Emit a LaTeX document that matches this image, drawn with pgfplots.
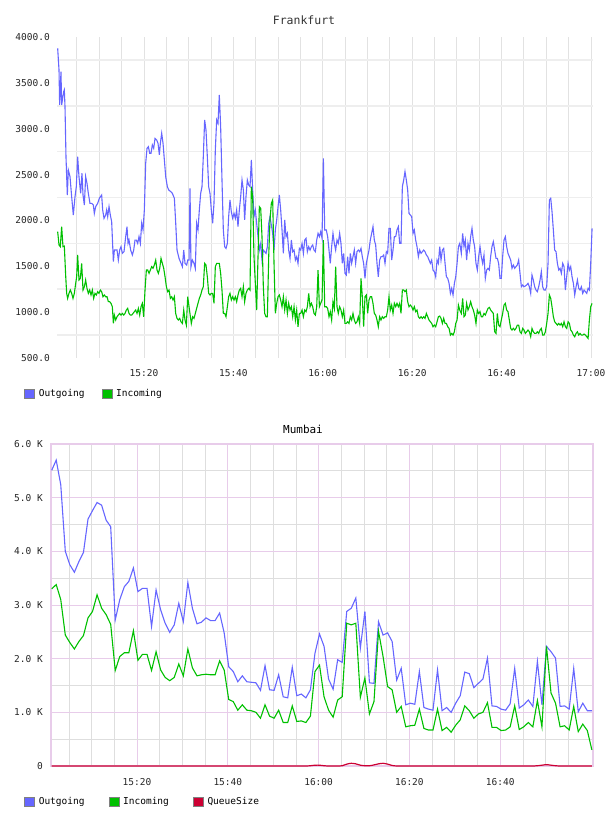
\documentclass[border=0pt]{standalone}
\usepackage{fontspec}
\setmainfont{DejaVu Sans Mono}
\usepackage{pgfplots}
\pgfplotsset{compat=1.18}
\usepackage{pgfplotstable}
\definecolor{cout}{RGB}{102,102,255}
\definecolor{cin}{RGB}{0,192,0}
\definecolor{cq}{RGB}{204,0,51}
\definecolor{gridh}{RGB}{238,238,238}
\definecolor{gridv}{RGB}{226,226,226}
\definecolor{mmaj}{RGB}{232,204,234}
\definecolor{mmin}{RGB}{222,222,222}

\pgfplotstableread{
t out in q
1.2 5510 3300 0
2.2 5700 3380 0
3.2 5240 3100 0
4.2 4000 2440 0
5.2 3750 2300 0
6.2 3610 2180 0
7.2 3810 2320 0
8.2 3980 2430 0
9.2 4600 2760 0
10.2 4760 2880 0
11.2 4910 3190 0
12.2 4860 2940 0
13.2 4580 2820 0
14.2 4460 2640 0
15.2 2720 1780 0
16.2 3100 2040 0
17.2 3340 2110 0
18.2 3440 2110 0
19.2 3690 2520 0
20.2 3250 1970 0
21.2 3310 2080 0
22.2 3310 2080 0
23.2 2600 1780 0
24.2 3280 2130 0
25.2 2910 1790 0
26.2 2660 1650 0
27.2 2490 1590 0
28.2 2630 1650 0
29.2 3030 1900 0
30.2 2690 1680 0
31.2 3420 2180 0
32.2 2940 1830 0
33.2 2650 1680 0
34.2 2680 1700 0
35.2 2760 1710 0
36.2 2710 1700 0
37.2 2710 1700 0
38.2 2850 1960 0
39.2 2480 1790 0
40.2 1850 1240 0
41.2 1760 1200 0
42.2 1570 1040 0
43.2 1680 1140 0
44.2 1570 1040 0
45.2 1560 1030 0
46.2 1550 1000 0
47.2 1410 890 0
48.2 1870 1140 0
49.2 1420 930 0
50.2 1410 890 0
51.2 1700 1040 0
52.2 1290 810 0
53.2 1270 810 0
54.2 1840 1120 0
55.2 1310 830 0
56.2 1340 840 0
57.2 1270 810 0
58.2 1420 930 5
59.2 2100 1760 15
60.2 2460 1880 15
61.2 2230 1290 5
62.2 1620 1040 0
63.2 1430 910 0
64.2 1980 1230 0
65.2 1930 1290 5
66.2 2880 2660 35
67.2 2940 2630 50
68.2 3130 2660 40
69.2 2200 1280 15
70.2 2880 1640 5
71.2 1550 970 5
72.2 1540 1200 20
73.2 2690 2510 40
74.2 2440 2040 50
75.2 2480 1480 35
76.2 2320 1420 10
77.2 1600 1000 0
78.2 1820 1110 0
79.2 1140 730 0
80.2 1170 750 0
81.2 1150 760 0
82.2 1760 1060 0
83.2 1090 700 0
84.2 1060 670 0
85.2 1040 670 0
86.2 1790 1060 0
87.2 1030 660 0
88.2 1090 720 0
89.2 1000 630 0
90.2 1170 760 0
91.2 1310 860 0
92.2 1750 1120 0
93.2 1720 1030 0
94.2 1460 890 0
95.2 1540 970 0
96.2 1620 1000 0
97.2 2010 1180 0
98.2 1120 720 0
99.2 1110 720 0
100.2 1060 660 0
101.2 1040 670 0
102.2 1160 730 0
103.2 1820 1120 0
104.2 1080 680 0
105.2 1140 730 0
106.2 1230 810 0
107.2 1110 730 0
108.2 1950 1220 5
109.2 1140 730 15
110.2 2230 2230 25
111.2 2130 1360 15
112.2 2010 1170 5
113.2 1110 730 0
114.2 1120 750 0
115.2 1060 670 0
116.2 1820 1110 0
117.2 1010 640 0
118.2 1170 780 0
119.2 1030 660 0
120.2 1030 300 0
}\mumbai

\begin{document}
\begin{tikzpicture}
\path[use as bounding box] (0pt,0pt) rectangle (608pt,816pt);
% ---------------- Frankfurt ----------------
\begin{axis}[
  at={(57pt,458pt)}, anchor=south west,
  scale only axis, width=536pt, height=321pt,
  xmin=0.54, xmax=120.45, ymin=500, ymax=4000,
  axis line style={draw=none}, tick style={draw=none},
  xtick={5,10,...,120},
  xticklabels={,,,15:20,,,,15:40,,,,16:00,,,,16:20,,,,16:40,,,,17:00},
  ytick={500,1000,...,4000},
  yticklabels={500.0,1000.0,1500.0,2000.0,2500.0,3000.0,3500.0,4000.0},
  minor ytick={750,1250,...,3750},
  xmajorgrids, yminorgrids,
  major grid style={gridv, line width=0.9pt},
  minor grid style={gridh, line width=1.6pt},
  ticklabel style={font=\fontsize{9.5}{11}\selectfont, text=black!85},
  yticklabel style={inner sep=0pt, xshift=-7pt},
  xticklabel style={inner sep=0pt, anchor=center, yshift=-15pt},
  title={Frankfurt},
  title style={at={(0.5,1)}, anchor=center, xshift=-21pt, yshift=11pt,
    font=\fontsize{11.5}{13}\selectfont, text=black!80},
  legend columns=-1,
  legend style={at={(-0.0616,-0.112)}, anchor=west, draw=none, fill=none,
    inner sep=0pt, font=\fontsize{9.5}{11}\selectfont,
    nodes={inner sep=1pt},
    /tikz/every even column/.append style={column sep=16pt}},
  clip=false,
]
\addlegendimage{legend image code/.code={\draw[fill=cout,draw=gray,line width=0.8pt] (0pt,-4.5pt) rectangle (10pt,4.5pt); \path (13pt,0pt);}}
\addlegendentry{Outgoing}
\addlegendimage{legend image code/.code={\draw[fill=cin,draw=gray,line width=0.8pt] (0pt,-4.5pt) rectangle (10pt,4.5pt); \path (13pt,0pt);}}
\addlegendentry{Incoming}
\addplot[forget plot, cout, line width=1.1pt] coordinates {
(0.69,3877)(0.99,3641)(1.13,3259)(1.43,3623)(1.58,3259)(2.03,3404)(2.18,3423)(2.33,3241)(2.55,2695)(2.85,2277)(3.07,2550)(3.45,2477)(3.82,2259)(4.19,2059)(4.57,2259)(4.86,2368)(5.16,2695)(5.46,2477)(5.83,2295)(6.13,2514)(6.36,2277)(6.66,2168)(6.95,2477)(7.25,2405)(7.55,2295)(7.92,2186)(8.30,2186)(8.67,2168)(8.89,2077)(9.19,2150)(9.64,2186)(10.01,2241)(10.53,2277)(10.76,2114)(11.06,2023)(11.43,2059)(11.65,2114)(11.88,2041)(12.18,2150)(12.47,2059)(12.77,1986)(13.15,1550)(13.37,1677)(13.67,1677)(13.97,1677)(14.26,1568)(14.56,1677)(14.86,1714)(15.16,1641)(15.53,1659)(15.91,1823)(16.20,1932)(16.43,1750)(16.65,1786)(17.02,1677)(17.40,1623)(17.70,1677)(17.99,1786)(18.29,1786)(18.59,1750)(18.89,1823)(19.19,1750)(19.49,1968)(19.78,1896)(20.08,2114)(20.38,2623)(20.68,2786)(20.98,2804)(21.28,2732)(21.57,2732)(21.87,2823)(22.17,2786)(22.47,2895)(22.84,2877)(23.14,2841)(23.44,2714)(23.66,2841)(23.96,2950)(24.26,2841)(24.56,2659)(24.86,2477)(25.23,2368)(25.53,2332)(25.98,2314)(26.35,2295)(26.80,2241)(27.10,1968)(27.39,1677)(27.84,1586)(28.29,1532)(28.59,1496)(28.89,1677)(29.18,1532)(29.56,1514)(29.78,1568)(30.08,1568)(30.30,2350)(30.51,1496)(30.81,1568)(31.19,1532)(31.48,1478)(31.78,1968)(32.08,1896)(32.38,2114)(32.68,2295)(32.98,2368)(33.27,2695)(33.57,3095)(33.87,2986)(34.17,2695)(34.47,2368)(34.77,2295)(35.06,2114)(35.36,1968)(35.66,2186)(35.96,2768)(36.26,3095)(36.56,3059)(36.85,3368)(37.15,3023)(37.45,2441)(37.75,1896)(38.05,1714)(38.35,1695)(38.65,1750)(38.94,2041)(39.24,2223)(39.54,2095)(39.84,2023)(40.14,2077)(40.44,2023)(40.73,2114)(41.03,1932)(41.33,2114)(41.63,2259)(41.93,2441)(42.23,2332)(42.52,2005)(42.82,2259)(43.12,2441)(43.42,2386)(43.72,2368)(44.02,2659)(44.31,2332)(44.61,2041)(44.91,2114)(45.21,1968)(45.51,1823)(45.81,1677)(46.11,1750)(46.40,1568)(46.70,1677)(47.00,1659)(47.30,1641)(47.60,1714)(47.90,1968)(48.19,2041)(48.49,1950)(48.79,1859)(49.09,1677)(49.39,1896)(49.69,2005)(49.99,2150)(50.28,2277)(50.58,2114)(50.88,1896)(51.18,1641)(51.48,2005)(51.78,1823)(52.08,1859)(52.37,1677)(52.67,1586)(52.97,1786)(53.27,1659)(53.57,1677)(53.87,1568)(54.16,1605)(54.46,1532)(54.76,1695)(55.06,1677)(55.36,1750)(55.66,1641)(55.96,1786)(56.25,1805)(56.55,1659)(56.85,1714)(57.15,1677)(57.45,1714)(57.74,1732)(58.04,1677)(58.34,1659)(58.64,1786)(58.94,1859)(59.24,1823)(59.53,1877)(59.83,1805)(60.13,2677)(60.43,1896)(60.79,1896)(61.09,1823)(61.39,1677)(61.68,1532)(61.98,1714)(62.28,1859)(62.58,1750)(62.88,1677)(63.18,1786)(63.47,1750)(63.77,1859)(64.07,1750)(64.37,1532)(64.67,1641)(64.97,1423)(65.26,1405)(65.56,1605)(65.86,1423)(66.16,1641)(66.46,1532)(66.76,1605)(67.05,1677)(67.35,1532)(67.65,1659)(67.95,1677)(68.25,1659)(68.55,1695)(68.84,1605)(69.14,1532)(69.44,1368)(69.74,1532)(70.04,1605)(70.34,1677)(70.63,1786)(70.93,1859)(71.23,1932)(71.53,1786)(71.83,1732)(72.13,1532)(72.42,1386)(72.72,1568)(73.02,1605)(73.32,1605)(73.62,1623)(73.92,1532)(74.22,1659)(74.51,1641)(74.81,1914)(75.11,1914)(75.41,1568)(75.71,1677)(76.01,1823)(76.31,1823)(76.60,1896)(76.90,1932)(77.20,1750)(77.50,1750)(77.80,2368)(78.10,2441)(78.39,2532)(78.69,2441)(78.99,2332)(79.29,2077)(79.59,2059)(79.89,2041)(80.19,1859)(80.48,1896)(80.78,1786)(81.08,1714)(81.38,1605)(81.68,1677)(81.98,1641)(82.28,1659)(82.57,1677)(82.87,1659)(83.17,1623)(83.47,1605)(83.77,1568)(84.07,1532)(84.36,1568)(84.66,1459)(84.96,1441)(85.26,1386)(85.56,1568)(85.86,1532)(86.16,1714)(86.45,1568)(86.75,1677)(87.05,1695)(87.35,1532)(87.65,1386)(87.95,1368)(88.25,1314)(88.55,1205)(88.84,1259)(89.14,1187)(89.44,1314)(89.74,1386)(90.04,1532)(90.34,1714)(90.64,1750)(90.99,1641)(91.29,1859)(91.59,1714)(91.88,1786)(92.18,1568)(92.48,1750)(92.78,1677)(93.08,1823)(93.38,1914)(93.67,1786)(93.97,1714)(94.27,1532)(94.57,1459)(94.87,1605)(95.17,1714)(95.46,1605)(95.76,1532)(96.06,1623)(96.36,1368)(96.66,1459)(96.96,1478)(97.26,1459)(97.55,1605)(97.85,1714)(98.15,1768)(98.45,1677)(98.75,1586)(99.05,1586)(99.34,1532)(99.64,1368)(99.94,1368)(100.24,1605)(100.54,1786)(100.84,1823)(101.13,1714)(101.43,1641)(101.73,1605)(102.03,1568)(102.33,1478)(102.63,1514)(102.93,1478)(103.22,1496)(103.52,1514)(103.82,1568)(104.12,1423)(104.42,1277)(104.72,1296)(105.01,1277)(105.31,1285)(105.61,1296)(105.91,1314)(106.21,1277)(106.51,1205)(106.80,1405)(107.10,1350)(107.40,1277)(107.70,1241)(108.00,1223)(108.30,1277)(108.60,1350)(108.89,1441)(109.19,1277)(109.49,1241)(109.79,1241)(110.09,1277)(110.39,1532)(110.69,2223)(110.99,2241)(111.28,2095)(111.58,1896)(111.88,1677)(112.18,1659)(112.48,1532)(112.78,1459)(113.08,1478)(113.37,1423)(113.67,1532)(113.97,1496)(114.27,1241)(114.57,1386)(114.87,1532)(115.17,1459)(115.46,1496)(115.76,1386)(116.06,1314)(116.36,1187)(116.66,1277)(116.96,1350)(117.26,1259)(117.55,1241)(117.85,1277)(118.15,1205)(118.45,1241)(118.75,1223)(119.05,1205)(119.35,1259)(119.64,1241)(119.94,1532)(120.24,1914)
};
\addplot[forget plot, cin, line width=1.1pt] coordinates {
(0.69,1877)(0.99,1732)(1.28,1714)(1.58,1932)(1.88,1714)(2.18,1720)(2.48,1400)(2.70,1205)(2.92,1150)(3.22,1205)(3.52,1241)(3.82,1205)(4.12,1150)(4.42,1205)(4.72,1314)(4.94,1386)(5.16,1623)(5.46,1350)(5.76,1368)(6.06,1532)(6.36,1241)(6.66,1277)(6.95,1350)(7.25,1259)(7.55,1205)(7.85,1241)(8.15,1187)(8.45,1241)(8.74,1150)(9.04,1205)(9.34,1187)(9.64,1223)(9.94,1205)(10.24,1241)(10.53,1223)(10.83,1168)(11.13,1187)(11.43,1168)(11.73,1168)(12.03,1114)(12.32,1114)(12.62,1096)(12.92,1059)(13.15,877)(13.37,968)(13.67,914)(13.97,950)(14.26,968)(14.56,986)(14.86,968)(15.16,986)(15.46,968)(15.76,986)(16.05,1023)(16.35,1041)(16.65,986)(16.95,968)(17.25,968)(17.55,986)(17.85,1005)(18.14,1023)(18.44,986)(18.74,1041)(19.04,968)(19.34,1059)(19.63,1096)(19.93,950)(20.23,1241)(20.53,1459)(20.83,1459)(21.13,1423)(21.43,1459)(21.72,1496)(22.02,1478)(22.32,1514)(22.62,1568)(22.92,1459)(23.22,1423)(23.52,1478)(23.81,1586)(24.11,1532)(24.41,1478)(24.71,1386)(25.01,1277)(25.30,1223)(25.60,1241)(25.90,1150)(26.20,1168)(26.50,1132)(26.80,1168)(27.09,986)(27.39,932)(27.69,914)(27.99,932)(28.29,895)(28.59,877)(28.89,1023)(29.18,914)(29.48,859)(29.78,1168)(30.08,1059)(30.38,950)(30.59,877)(30.89,950)(31.19,932)(31.48,986)(31.78,1041)(32.08,1096)(32.38,1150)(32.68,1187)(32.98,1241)(33.27,1277)(33.57,1532)(33.87,1514)(34.17,1386)(34.47,1205)(34.77,1187)(35.06,1205)(35.36,1205)(35.66,1096)(35.96,1496)(36.26,1532)(36.56,1532)(36.85,1532)(37.15,1423)(37.45,1241)(37.75,986)(38.05,986)(38.35,950)(38.65,1059)(38.94,1168)(39.24,1205)(39.54,1132)(39.84,1168)(40.14,1132)(40.44,1168)(40.73,1114)(41.03,1187)(41.33,1241)(41.63,1259)(41.93,1168)(42.23,1277)(42.52,1114)(42.82,1205)(43.12,1241)(43.42,1259)(43.72,1241)(44.02,2368)(44.31,2259)(44.61,1605)(44.91,1314)(45.21,1023)(45.51,1605)(45.81,2150)(46.11,2132)(46.40,1823)(46.70,1277)(47.00,986)(47.30,950)(47.60,950)(47.90,1605)(48.19,2005)(48.49,2186)(48.79,2223)(49.09,1532)(49.39,986)(49.69,1096)(49.99,1168)(50.28,1187)(50.58,1132)(50.88,1059)(51.18,1168)(51.48,1023)(51.78,1132)(52.08,986)(52.37,1096)(52.67,1023)(52.97,1059)(53.27,950)(53.57,1059)(53.87,914)(54.16,1023)(54.46,841)(54.76,986)(55.06,986)(55.36,1023)(55.66,950)(55.96,1023)(56.25,1005)(56.55,1059)(56.85,1205)(57.15,1059)(57.45,1096)(57.74,1059)(58.04,986)(58.34,968)(58.64,1059)(58.94,1459)(59.24,1059)(59.53,1096)(59.83,1132)(60.13,1786)(60.43,1059)(60.79,1059)(61.09,1041)(61.39,950)(61.68,1005)(61.98,914)(62.28,1114)(62.58,1041)(62.88,1496)(63.18,1059)(63.47,986)(63.77,1059)(64.07,1023)(64.37,950)(64.67,1023)(64.97,877)(65.26,877)(65.56,895)(65.86,877)(66.16,950)(66.46,914)(66.76,986)(67.05,914)(67.35,877)(67.65,895)(67.95,950)(68.25,877)(68.55,1368)(68.84,1168)(69.14,841)(69.44,1168)(69.74,1187)(70.04,986)(70.34,1132)(70.63,1168)(70.93,1168)(71.23,1096)(71.53,986)(71.83,968)(72.13,914)(72.42,841)(72.72,950)(73.02,914)(73.32,950)(73.62,932)(73.92,950)(74.22,950)(74.51,1023)(74.81,1168)(75.11,1023)(75.41,1077)(75.71,986)(76.01,1096)(76.31,1059)(76.60,1096)(76.90,1059)(77.20,1096)(77.50,986)(77.80,1241)(78.10,1241)(78.39,1223)(78.69,1241)(78.99,1114)(79.29,1059)(79.59,1077)(79.89,1059)(80.19,1023)(80.48,1059)(80.78,1005)(81.08,1023)(81.38,950)(81.68,932)(81.98,950)(82.28,932)(82.57,950)(82.87,932)(83.17,986)(83.47,950)(83.77,914)(84.07,895)(84.36,877)(84.66,841)(84.96,859)(85.26,841)(85.56,895)(85.86,950)(86.16,957)(86.45,932)(86.75,877)(87.05,932)(87.35,877)(87.65,877)(87.95,841)(88.25,823)(88.55,750)(88.84,768)(89.14,750)(89.44,786)(89.74,877)(90.04,914)(90.34,1077)(90.64,1023)(90.99,986)(91.29,1150)(91.59,950)(91.88,968)(92.18,1096)(92.48,1023)(92.78,1059)(93.08,1114)(93.38,1059)(93.67,1023)(93.97,968)(94.27,877)(94.57,1023)(94.87,986)(95.17,1005)(95.46,950)(95.76,950)(96.06,986)(96.36,968)(96.66,1005)(96.96,1041)(97.26,1052)(97.55,1023)(97.85,1005)(98.15,986)(98.45,786)(98.75,768)(99.05,986)(99.34,859)(99.64,841)(99.94,914)(100.24,986)(100.54,1077)(100.84,1096)(101.13,1023)(101.43,1005)(101.73,914)(102.03,823)(102.33,805)(102.63,823)(102.93,805)(103.22,823)(103.52,859)(103.82,859)(104.12,786)(104.42,768)(104.72,823)(105.01,805)(105.31,768)(105.61,786)(105.91,805)(106.21,786)(106.51,732)(106.80,823)(107.10,786)(107.40,768)(107.70,768)(108.00,786)(108.30,768)(108.60,805)(108.89,823)(109.19,750)(109.49,750)(109.79,786)(110.09,877)(110.39,986)(110.69,1187)(110.99,1150)(111.28,1059)(111.58,950)(111.88,895)(112.18,877)(112.48,859)(112.78,877)(113.08,859)(113.37,877)(113.67,841)(113.97,895)(114.27,841)(114.57,823)(114.87,895)(115.17,877)(115.46,805)(115.76,786)(116.06,750)(116.36,732)(116.66,768)(116.96,786)(117.26,750)(117.55,768)(117.85,750)(118.15,750)(118.45,761)(118.75,750)(119.05,732)(119.35,714)(119.64,914)(119.94,1059)(120.24,1096)
};
\end{axis}
% ---------------- Mumbai ----------------
\begin{axis}[
  at={(51pt,50pt)}, anchor=south west,
  scale only axis, width=542pt, height=322pt,
  xmin=1.05, xmax=120.45, ymin=0, ymax=6000,
  axis line style={mmaj, line width=1.4pt}, tick style={draw=none},
  xtick={20,40,60,80,100},
  xticklabels={15:20,15:40,16:00,16:20,16:40},
  minor xtick={5,10,15,25,30,35,45,50,55,65,70,75,85,90,95,105,110,115},
  ytick={0,1000,...,6000},
  yticklabels={0,1.0 K,2.0 K,3.0 K,4.0 K,5.0 K,6.0 K},
  minor ytick={500,1500,...,5500},
  grid=both,
  major grid style={mmaj, line width=0.9pt},
  minor grid style={mmin, line width=0.7pt},
  ticklabel style={font=\fontsize{9.5}{11}\selectfont, text=black!85},
  yticklabel style={inner sep=0pt, xshift=-8pt},
  xticklabel style={inner sep=0pt, anchor=center, yshift=-16pt},
  title={Mumbai},
  title style={at={(0.5,1)}, anchor=center, xshift=-19pt, yshift=9pt,
    font=\fontsize{11}{13}\selectfont, text=black},
  legend columns=-1,
  legend style={at={(-0.0498,-0.1118)}, anchor=west, draw=none, fill=none,
    inner sep=0pt, font=\fontsize{9.5}{11}\selectfont,
    nodes={inner sep=1pt},
    /tikz/every even column/.append style={column sep=23pt}},
  clip=false,
]
\addlegendimage{legend image code/.code={\draw[fill=cout,draw=gray,line width=0.8pt] (0pt,-4.5pt) rectangle (10pt,4.5pt); \path (13pt,0pt);}}
\addlegendentry{Outgoing}
\addlegendimage{legend image code/.code={\draw[fill=cin,draw=gray,line width=0.8pt] (0pt,-4.5pt) rectangle (10pt,4.5pt); \path (13pt,0pt);}}
\addlegendentry{Incoming}
\addlegendimage{legend image code/.code={\draw[fill=cq,draw=gray,line width=0.8pt] (0pt,-4.5pt) rectangle (10pt,4.5pt); \path (13pt,0pt);}}
\addlegendentry{QueueSize}
\addplot[forget plot, cout, line width=1.1pt] table[x=t, y=out] {\mumbai};
\addplot[forget plot, cin, line width=1.1pt] table[x=t, y=in] {\mumbai};
\addplot[forget plot, cq, line width=1.2pt, smooth] table[x=t, y=q] {\mumbai};
\end{axis}
\end{tikzpicture}
\end{document}
